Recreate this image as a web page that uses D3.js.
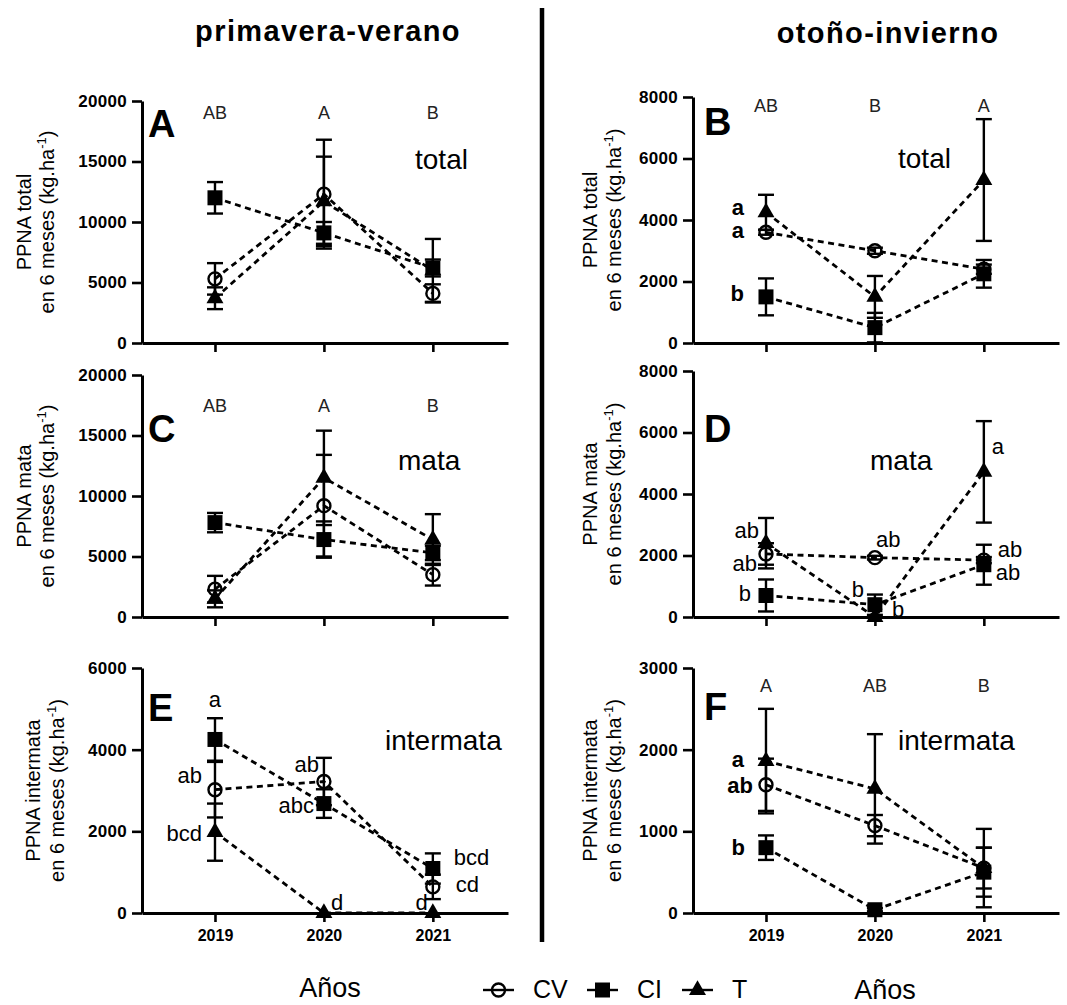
<!DOCTYPE html>
<html><head><meta charset="utf-8">
<script src="https://cdn.jsdelivr.net/npm/d3@7"></script>
<style>
body{margin:0;background:#fff}
svg{display:block}
text{font-family:"Liberation Sans",Arial,Helvetica,sans-serif;fill:#000}
</style>
</head><body>
<svg id="c" width="1067" height="1005"></svg>
<script>
// ---------------- DATA ----------------
const years = [2019, 2020, 2021];
const seriesNames = ["CV", "CI", "T"];

// Panel A: PPNA total, primavera-verano
const A_CV = [5300, 12300, 4100];   const A_CV_err = [1300, 4500, 750];
const A_CI = [12000, 9100, 6200];   const A_CI_err = [1300, 900, 700];
const A_T  = [3700, 11700, 6000];   const A_T_err  = [900, 3700, 2600];
// Panel B: PPNA total, otoño-invierno
const B_CV = [3600, 3000, 2400];    const B_CV_err = [80, 100, 150];
const B_CI = [1500, 500, 2250];     const B_CI_err = [600, 480, 450];
const B_T  = [4250, 1500, 5300];    const B_T_err  = [570, 680, 1980];
// Panel C: PPNA mata, primavera-verano
const C_CV = [2300, 9200, 3500];    const C_CV_err = [1100, 4200, 900];
const C_CI = [7800, 6400, 5300];    const C_CI_err = [800, 1500, 600];
const C_T  = [1500, 11500, 6400];   const C_T_err  = [700, 3900, 2100];
// Panel D: PPNA mata, otoño-invierno
const D_CV = [2050, 1930, 1850];    const D_CV_err = [350, 60, 100];
const D_CI = [700, 400, 1700];      const D_CI_err = [520, 330, 650];
const D_T  = [2400, 0, 4720];       const D_T_err  = [820, 0, 1650];
// Panel E: PPNA intermata, primavera-verano
const E_CV = [3020, 3220, 640];     const E_CV_err = [680, 580, 300];
const E_CI = [4250, 2680, 1090];    const E_CI_err = [520, 350, 370];
const E_T  = [1980, 0, 0];          const E_T_err  = [700, 0, 0];
// Panel F: PPNA intermata, otoño-invierno
const F_CV = [1570, 1070, 550];     const F_CV_err = [320, 130, 250];
const F_CI = [800, 40, 500];        const F_CI_err = [150, 20, 300];
const F_T  = [1860, 1520, 550];     const F_T_err  = [640, 670, 480];

// Tick values
const ticksA = [0, 5000, 10000, 15000, 20000];
const ticksB = [0, 2000, 4000, 6000, 8000];
const ticksE = [0, 2000, 4000, 6000];
const ticksF = [0, 1000, 2000, 3000];

// Letters (significance groups)
const groupsA = ["AB", "A", "B"];
const groupsB = ["AB", "B", "A"];
const groupsC = ["AB", "A", "B"];
const groupsF = ["A", "AB", "B"];

// ---------------- LAYOUT ----------------
const svg = d3.select("#c");
const sides = [{x0: 142, x1: 508}, {x0: 693, x1: 1059}];
const xDomain = [2018.33, 2021.69];

const panels = [
  {L:"A", side:0, y0:343, y1:101, max:20000, ticks:ticksA, ylab:"PPNA total", name:"total",
   nameX:415, nameY:169, letY:137, groups:groupsA, gY:119, yl:[31,54],
   s:{CV:[A_CV,A_CV_err], CI:[A_CI,A_CI_err], T:[A_T,A_T_err]}, ann:[], annBold:false, xlabels:false},
  {L:"B", side:1, y0:343, y1:97, max:8000, ticks:ticksB, ylab:"PPNA total", name:"total",
   nameX:898, nameY:168, letY:135, groups:groupsB, gY:112, yl:[597,621],
   s:{CV:[B_CV,B_CV_err], CI:[B_CI,B_CI_err], T:[B_T,B_T_err]}, annBold:true, xlabels:false,
   ann:[{t:"a",s:"T",i:0,dx:-22,dy:3,a:"end"},{t:"a",s:"CV",i:0,dx:-22,dy:6,a:"end"},{t:"b",s:"CI",i:0,dx:-22,dy:4,a:"end"}]},
  {L:"C", side:0, y0:617, y1:375, max:20000, ticks:ticksA, ylab:"PPNA mata", name:"mata",
   nameX:398, nameY:470, letY:442, groups:groupsC, gY:412, yl:[31,54],
   s:{CV:[C_CV,C_CV_err], CI:[C_CI,C_CI_err], T:[C_T,C_T_err]}, ann:[], annBold:false, xlabels:false},
  {L:"D", side:1, y0:617, y1:371, max:8000, ticks:ticksB, ylab:"PPNA mata", name:"mata",
   nameX:870, nameY:470, letY:442, groups:null, gY:0, yl:[597,621],
   s:{CV:[D_CV,D_CV_err], CI:[D_CI,D_CI_err], T:[D_T,D_T_err]}, annBold:false, xlabels:false,
   ann:[{t:"ab",s:"T",i:0,dx:-7,dy:-5,a:"end"},{t:"ab",s:"CV",i:0,dx:-9,dy:17,a:"end"},{t:"b",s:"CI",i:0,dx:-15,dy:6,a:"end"},
        {t:"ab",s:"CV",i:1,dx:1,dy:-11,a:"start"},{t:"b",s:"CI",i:1,dx:-11,dy:-8,a:"end"},{t:"b",s:"T",i:1,dx:17,dy:0,a:"start"},
        {t:"a",s:"T",i:2,dx:8,dy:-18,a:"start"},{t:"ab",s:"CV",i:2,dx:14,dy:-3,a:"start"},{t:"ab",s:"CI",i:2,dx:12,dy:15,a:"start"}]},
  {L:"E", side:0, y0:913, y1:668, max:6000, ticks:ticksE, ylab:"PPNA intermata", name:"intermata",
   nameX:385, nameY:750, letY:721, groups:null, gY:0, yl:[40,64],
   s:{CV:[E_CV,E_CV_err], CI:[E_CI,E_CI_err], T:[E_T,E_T_err]}, annBold:false, xlabels:true,
   ann:[{t:"a",s:"CI",i:0,dx:0,dy:-32,a:"middle"},{t:"ab",s:"CV",i:0,dx:-13,dy:-7,a:"end"},{t:"bcd",s:"T",i:0,dx:-13,dy:9,a:"end"},
        {t:"ab",s:"CV",i:1,dx:-5,dy:-10,a:"end"},{t:"abc",s:"CI",i:1,dx:-10,dy:9,a:"end"},{t:"d",s:"T",i:1,dx:7,dy:-3,a:"start"},
        {t:"bcd",s:"CI",i:2,dx:21,dy:-3,a:"start"},{t:"cd",s:"CV",i:2,dx:23,dy:5,a:"start"},{t:"d",s:"T",i:2,dx:-5,dy:-3,a:"end"}]},
  {L:"F", side:1, y0:913, y1:668, max:3000, ticks:ticksF, ylab:"PPNA intermata", name:"intermata",
   nameX:898, nameY:750, letY:720, groups:groupsF, gY:692, yl:[597,621],
   s:{CV:[F_CV,F_CV_err], CI:[F_CI,F_CI_err], T:[F_T,F_T_err]}, annBold:true, xlabels:true,
   ann:[{t:"a",s:"T",i:0,dx:-22,dy:6,a:"end"},{t:"ab",s:"CV",i:0,dx:-13,dy:8,a:"end"},{t:"b",s:"CI",i:0,dx:-21,dy:7,a:"end"}]}
];

// ---------------- TITLES / DIVIDER ----------------
svg.append("text").attr("x", 328).attr("y", 41).attr("text-anchor","middle")
  .style("font-size","29px").style("font-weight","bold").style("letter-spacing","1.4px").text("primavera-verano");
svg.append("text").attr("x", 888).attr("y", 43).attr("text-anchor","middle")
  .style("font-size","29px").style("font-weight","bold").style("letter-spacing","1.4px").text("otoño-invierno");
svg.append("line").attr("x1",542).attr("x2",542).attr("y1",8).attr("y2",942)
  .attr("stroke","#000").attr("stroke-width",4.5);

// ---------------- MARKERS ----------------
function drawMarker(g, name, x, y) {
  if (name === "CV") {
    g.append("circle").attr("cx",x).attr("cy",y).attr("r",6.5)
      .attr("fill","none").attr("stroke","#000").attr("stroke-width",2.4);
  } else if (name === "CI") {
    g.append("path").attr("d", d3.symbol().type(d3.symbolSquare).size(225)())
      .attr("transform",`translate(${x},${y})`).attr("fill","#000");
  } else {
    g.append("path").attr("d", d3.symbol().type(d3.symbolTriangle).size(125)())
      .attr("transform",`translate(${x},${y})`).attr("fill","#000");
  }
}

// ---------------- PANELS ----------------
panels.forEach(p => {
  const sd = sides[p.side];
  const xs = d3.scaleLinear().domain(xDomain).range([sd.x0, sd.x1]);
  const ys = d3.scaleLinear().domain([0, p.max]).range([p.y0, p.y1]);
  const g = svg.append("g");

  // y axis
  const ya = g.append("g").attr("transform",`translate(${sd.x0},0)`)
    .call(d3.axisLeft(ys).tickValues(p.ticks).tickSize(10).tickSizeOuter(0).tickPadding(5).tickFormat(d3.format("d")));
  // x axis
  const xa = g.append("g").attr("transform",`translate(0,${p.y0})`)
    .call(d3.axisBottom(xs).tickValues(years).tickSize(9).tickSizeOuter(0).tickPadding(8)
      .tickFormat(p.xlabels ? d3.format("d") : () => ""));
  [ya, xa].forEach(a => {
    a.select(".domain").attr("stroke-width",3).attr("stroke","#000");
    a.selectAll(".tick line").attr("stroke-width",2.6).attr("stroke","#000");
    a.selectAll(".tick text").style("font-size","16px").style("font-weight","bold")
      .style("font-family","'Liberation Sans',Arial,sans-serif").attr("fill","#000");
  });
  ya.selectAll(".tick text").style("font-size","17px").style("letter-spacing","0.3px");

  // y title
  const yt = g.append("g");
  yt.append("text").attr("transform",`translate(${p.yl[0]},${(p.y0+p.y1)/2}) rotate(-90)`)
    .attr("text-anchor","middle").style("font-size","20px").text(p.ylab);
  const t2 = yt.append("text").attr("transform",`translate(${p.yl[1]},${(p.y0+p.y1)/2}) rotate(-90)`)
    .attr("text-anchor","middle").style("font-size","20px");
  t2.append("tspan").text("en 6 meses (kg.ha");
  t2.append("tspan").attr("dy",-8).style("font-size","13px").text("-1");
  t2.append("tspan").attr("dy",8).text(")");

  // dashed lines
  const line = d3.line().x((d,i) => xs(years[i])).y(d => ys(d));
  seriesNames.forEach(n => {
    g.append("path").datum(p.s[n][0]).attr("d", line).attr("fill","none")
      .attr("stroke","#000").attr("stroke-width",2.8).attr("stroke-dasharray","6,4.5");
  });
  // error bars
  seriesNames.forEach(n => {
    const [vals, errs] = p.s[n];
    vals.forEach((v,i) => {
      const e = errs[i]; if (!e) return;
      const x = xs(years[i]);
      g.append("line").attr("x1",x).attr("x2",x).attr("y1",ys(v-e)).attr("y2",ys(v+e))
        .attr("stroke","#000").attr("stroke-width",2.4);
      [v-e, v+e].forEach(b => {
        g.append("line").attr("x1",x-8).attr("x2",x+8).attr("y1",ys(b)).attr("y2",ys(b))
          .attr("stroke","#000").attr("stroke-width",2.4);
      });
    });
  });
  // markers
  seriesNames.forEach(n => {
    p.s[n][0].forEach((v,i) => drawMarker(g, n, xs(years[i]), ys(v)));
  });

  // panel letter
  g.append("text").attr("x", p.side ? 704 : 148).attr("y", p.letY)
    .style("font-size","38px").style("font-weight","bold").text(p.L);
  // panel name
  g.append("text").attr("x", p.nameX).attr("y", p.nameY).style("font-size","28px").text(p.name);
  // group letters
  if (p.groups) {
    p.groups.forEach((t,i) => g.append("text").attr("x", xs(years[i])).attr("y", p.gY)
      .attr("text-anchor","middle").style("font-size","18px").style("fill","#222").text(t));
  }
  // annotations
  p.ann.forEach(a => {
    const v = p.s[a.s][0][a.i];
    g.append("text").attr("x", xs(years[a.i]) + a.dx).attr("y", ys(v) + a.dy)
      .attr("text-anchor", a.a).style("font-size","22px")
      .style("font-weight", p.annBold ? "bold" : "normal").text(a.t);
  });
});

// ---------------- AXIS TITLES & LEGEND ----------------
svg.append("text").attr("x",330).attr("y",997).attr("text-anchor","middle").style("font-size","27px").text("Años");
svg.append("text").attr("x",885).attr("y",999).attr("text-anchor","middle").style("font-size","27px").text("Años");

const legX = [483, 587, 682];
const lg = svg.append("g");
seriesNames.forEach((n,i) => {
  const x = legX[i], y = 990;
  lg.append("line").attr("x1",x).attr("x2",x+31).attr("y1",y).attr("y2",y).attr("stroke","#000").attr("stroke-width",2.4);
  drawMarker(lg, n, x+15.5, y);
  lg.append("text").attr("x", x+50).attr("y", 998).style("font-size","25px").text(n);
});
</script>
</body></html>
